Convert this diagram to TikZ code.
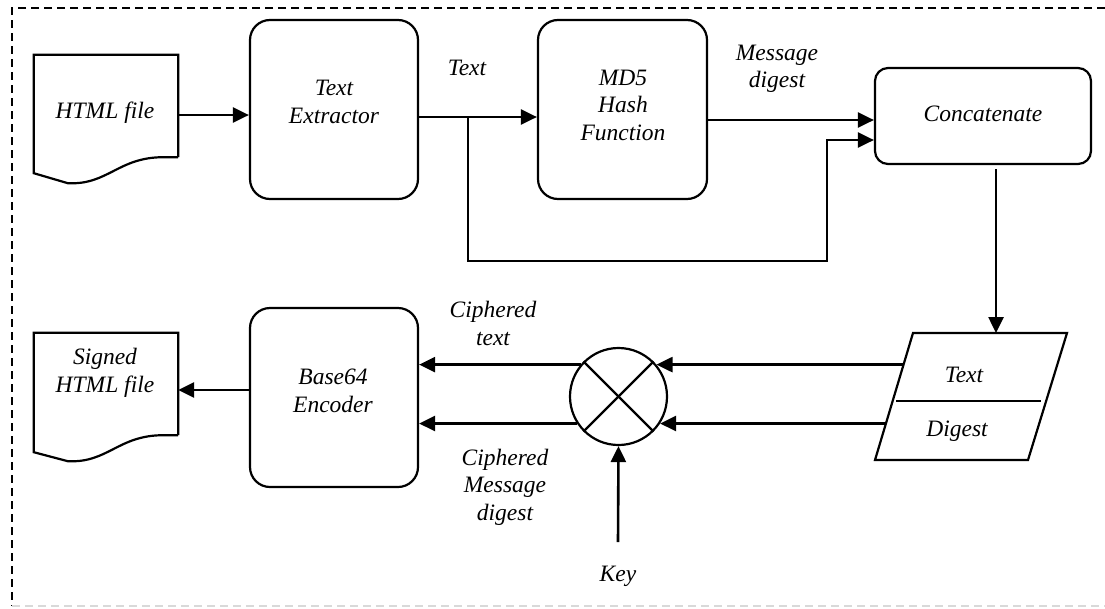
\documentclass[tikz,border=0pt]{standalone}
\usepackage{fontspec}
\setmainfont{Liberation Serif}
\usetikzlibrary{arrows.meta,calc}

\tikzset{
  lbl/.style={font=\fontsize{23.5}{27.5}\selectfont\itshape, align=center, inner sep=0pt},
  procbox/.style={draw, line width=2.2pt, rounded corners=20pt, inner sep=0pt},
  docbox/.style={inner sep=0pt},
  arr/.style={line width=2.6pt, -{Triangle[length=16pt,width=15pt]}},
  shape line/.style={line width=2.2pt, line join=miter},
}

\begin{document}
\begin{tikzpicture}[x=1pt, y=-1pt]
\useasboundingbox (0,0) rectangle (1105,608);

% outer dashed frame
\draw[line width=1.8pt, dash pattern=on 8pt off 5pt] (1105,8) -- (12,8) -- (12,606);
\draw[line width=1.4pt, dash pattern=on 8pt off 5pt, black!15] (12,606) -- (1105,606);

% ---------- documents ----------
\node[docbox, minimum width=144pt, minimum height=102pt] (html) at (106,106) {};
\draw[shape line] (html.south east) -- (html.north east) -- (html.north west)
  -- ($(html.south west)+(0,16)$) -- ++(34,10)
  .. controls ++(40,2) and ++(-45,0) .. ($(html.south east)+(-15,0)$) -- (html.south east);
\node[lbl] (html-t) at (105,113) {HTML file};

\node[docbox, minimum width=144pt, minimum height=102pt] (signed) at (106,384) {};
\draw[shape line] (signed.south east) -- (signed.north east) -- (signed.north west)
  -- ($(signed.south west)+(0,17)$) -- ++(34,9)
  .. controls ++(40,2) and ++(-45,0) .. ($(signed.south east)+(-15,0)$) -- (signed.south east);
\node[lbl] (signed-t) at (105,373) {Signed\\HTML file};

% ---------- processing boxes ----------
\node[procbox, minimum width=168pt, minimum height=179pt] (extract) at (334,109.5) {};
\node[lbl] (extract-t) at (334,102) {Text\\Extractor};

\node[procbox, minimum width=169pt, minimum height=179pt] (md5) at (622.5,109.5) {};
\node[lbl] (md5-t) at (623,105) {MD5\\Hash\\Function};

\node[procbox, rounded corners=13pt, minimum width=216pt, minimum height=96pt] (concat) at (983,116) {};
\node[lbl] (concat-t) at (983,114) {Concatenate};

\node[procbox, minimum width=168pt, minimum height=179pt] (b64) at (334,397.5) {};
\node[lbl] (b64-t) at (333,391) {Base64\\Encoder};

% ---------- text/digest record ----------
\coordinate (p-tl) at (913,333);
\coordinate (p-tr) at (1067,333);
\coordinate (p-br) at (1028,460);
\coordinate (p-bl) at (875,460);
\draw[shape line] (p-tl) -- (p-tr) -- (p-br) -- (p-bl) -- cycle;
\draw[shape line] (896,401) -- (1041,401);
\node[lbl] (rec-text) at (964,375) {Text};
\node[lbl] (rec-digest) at (957,431) {Digest};
\coordinate (rec-in) at (996,333);
\coordinate (rec-a) at ($(p-tl)!0.252!(p-bl)$);
\coordinate (rec-b) at ($(p-tl)!0.709!(p-bl)$);

% ---------- cipher mixer ----------
\node[draw, circle, line width=2.2pt, minimum size=97pt, inner sep=0pt] (mix) at (618.5,396.5) {};
\draw[line width=2.2pt] (mix.45) -- (mix.225);
\draw[line width=2.2pt] (mix.135) -- (mix.315);
\coordinate (key) at (618,542);
\node[lbl] (key-t) at (618,576) {Key};

% ---------- connectors ----------
\draw[arr] (html.east |- 0,115) -- (extract.west |- 0,115);
\draw[arr] (extract.east |- 0,117) -- (md5.west |- 0,117);
\node[lbl] (text-l) at (467,68) {Text};
\draw[arr] (md5.east |- 0,120) -- (concat.west |- 0,120);
\node[lbl] (md-l) at (777,69) {Message\\digest};
\draw[arr] (468,117) -- (468,261) -- (827,261) -- (827,140) -- (concat.west |- 0,140);
\draw[arr] (concat.south -| rec-in) ++(0,4) -- (rec-in);

\draw[arr] (rec-a |- mix.40) -- (mix.40);
\draw[arr] (rec-b |- mix.-33) -- (mix.-33);
\draw[arr] (mix.140) -- (b64.east |- mix.140);
\draw[arr] (mix.-147) -- (b64.east |- mix.-147);
\node[lbl] (ct-l) at (493,323.5) {Ciphered\\text};
\node[lbl] (cmd-l) at (505,487) {Ciphered\\Message\\digest};
\draw[arr] (key) -- (mix.south);

\draw[arr] (b64.west |- 0,390) -- (signed.east |- 0,390);
\end{tikzpicture}
\end{document}
